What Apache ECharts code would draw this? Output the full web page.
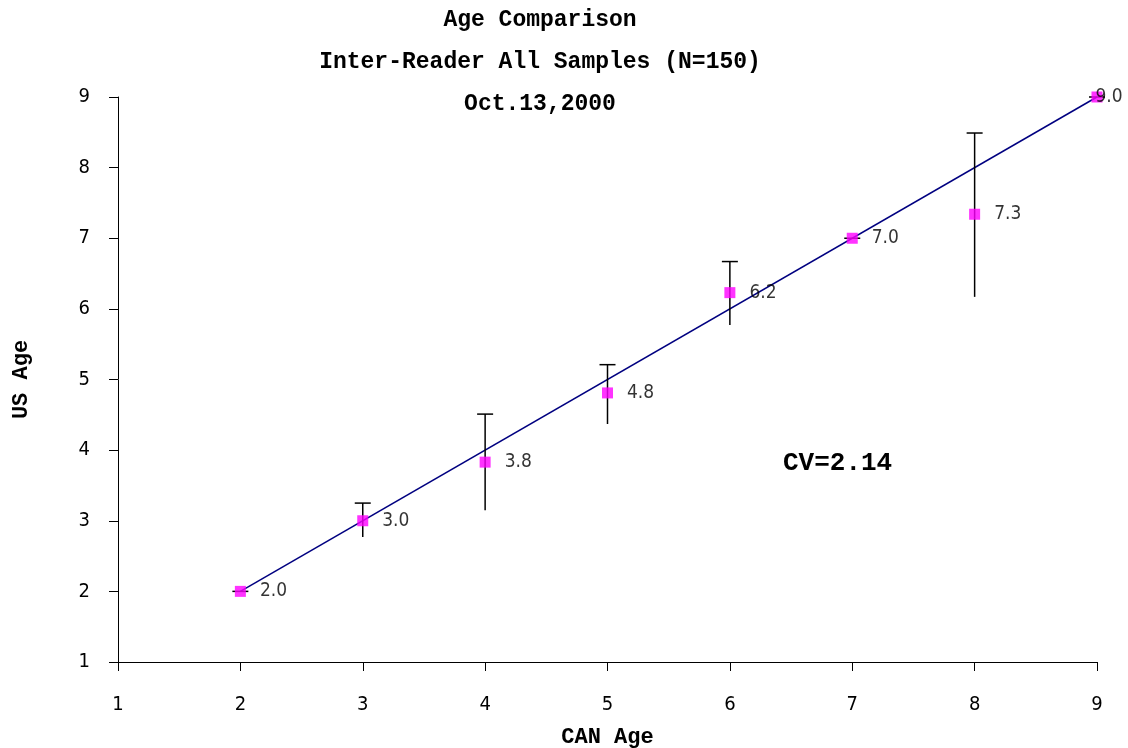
<!DOCTYPE html>
<html>
<head>
<meta charset="utf-8">
<script src="https://cdn.jsdelivr.net/npm/echarts@6/dist/echarts.min.js"></script>
<style>
  html, body { margin: 0; padding: 0; background: #fff; }
  #chart { width: 1128px; height: 748px; }
</style>
</head>
<body>
<div id="chart"></div>
<script>
// CAN age vs mean US age
const canAge = [2, 3, 4, 5, 6, 7, 8, 9];
const usAge = [2.0, 3.0, 3.83, 4.81, 6.23, 7.0, 7.34, 9.0];
// error bar ends
const errLow = [2.0, 2.77, 3.15, 4.37, 5.77, 7.0, 6.17, 9.0];
const errHigh = [2.0, 3.25, 4.51, 5.21, 6.67, 7.0, 8.49, 9.0];
// 1:1 reference line
const fitX = [2, 9];
const fitY = [2, 9];
const axisTicks = [1, 9];

const titleLines = ['Age Comparison', 'Inter-Reader All Samples (N=150)', 'Oct.13,2000'];
const monoBold = '"Liberation Mono", "DejaVu Sans Mono", monospace';
const narrow = '"Liberation Sans Narrow", "DejaVu Sans Condensed", sans-serif';

const chart = echarts.init(document.getElementById('chart'));

const errData = canAge.map((x, i) => [x, errLow[i], errHigh[i]]);

// the last label sits over its marker, as in the original
const pointData = canAge.map((x, i) => {
  const d = { value: [x, usAge[i]] };
  if (i === canAge.length - 1) d.label = { position: 'inside', offset: [12, 0] };
  return d;
});

const titleGraphics = titleLines.map((t, i) => ({
  type: 'text', x: 540, y: 20 + i * 42,
  style: { text: t, fontFamily: monoBold, fontWeight: 'bold', fontSize: 23,
    fill: '#000', align: 'center', verticalAlign: 'middle' }
}));

const option = {
  animation: false,
  backgroundColor: '#fff',
  grid: { left: 118, right: 31, top: 97, bottom: 86, containLabel: false, outerBoundsMode: 'none' },
  graphic: titleGraphics.concat([
    {
      type: 'text', x: 783, y: 463,
      style: { text: 'CV=2.14', fontFamily: monoBold, fontWeight: 'bold', fontSize: 26,
        fill: '#000', verticalAlign: 'middle' }
    }
  ]),
  xAxis: {
    type: 'value', min: axisTicks[0], max: axisTicks[1], interval: 1,
    name: 'CAN Age', nameLocation: 'middle', nameGap: 64,
    nameTextStyle: { fontFamily: monoBold, fontWeight: 'bold', fontSize: 22, color: '#000' },
    axisLine: { lineStyle: { color: '#000', width: 1 } },
    axisTick: { inside: false, length: 9, lineStyle: { color: '#000' } },
    axisLabel: { margin: 33, fontFamily: narrow, fontSize: 20, color: '#000' },
    splitLine: { show: false }
  },
  yAxis: {
    type: 'value', min: axisTicks[0], max: axisTicks[1], interval: 1,
    name: 'US Age', nameLocation: 'middle', nameGap: 86, nameRotate: 90,
    nameTextStyle: { fontFamily: monoBold, fontWeight: 'bold', fontSize: 22, color: '#000' },
    axisLine: { show: true, lineStyle: { color: '#000', width: 1 } },
    axisTick: { show: true, inside: false, length: 9, lineStyle: { color: '#000' } },
    axisLabel: { margin: 28, fontFamily: narrow, fontSize: 20, color: '#000' },
    splitLine: { show: false }
  },
  series: [
    {
      type: 'line',
      data: fitX.map((x, i) => [x, fitY[i]]),
      symbol: 'none',
      lineStyle: { color: '#000080', width: 1.5 },
      z: 2
    },
    {
      type: 'custom',
      data: errData,
      renderItem: function (params, api) {
        const x = api.value(0);
        const lo = api.coord([x, api.value(1)]);
        const hi = api.coord([x, api.value(2)]);
        const capW = 8;
        return {
          type: 'group',
          children: [
            { type: 'line', shape: { x1: lo[0], y1: lo[1], x2: hi[0], y2: hi[1] },
              style: { stroke: '#000', lineWidth: 1.5 } },
            { type: 'line', shape: { x1: hi[0] - capW, y1: hi[1], x2: hi[0] + capW, y2: hi[1] },
              style: { stroke: '#000', lineWidth: 1.5 } }
          ]
        };
      },
      z: 3
    },
    {
      type: 'scatter',
      data: pointData,
      symbol: 'rect',
      symbolSize: 11,
      itemStyle: { color: '#ff00ff' },
      label: {
        show: true, position: 'right', distance: 14,
        fontFamily: narrow, fontSize: 19, color: '#000',
        formatter: p => p.value[1].toFixed(1)
      },
      z: 4
    }
  ]
};

chart.setOption(option);
</script>
</body>
</html>
